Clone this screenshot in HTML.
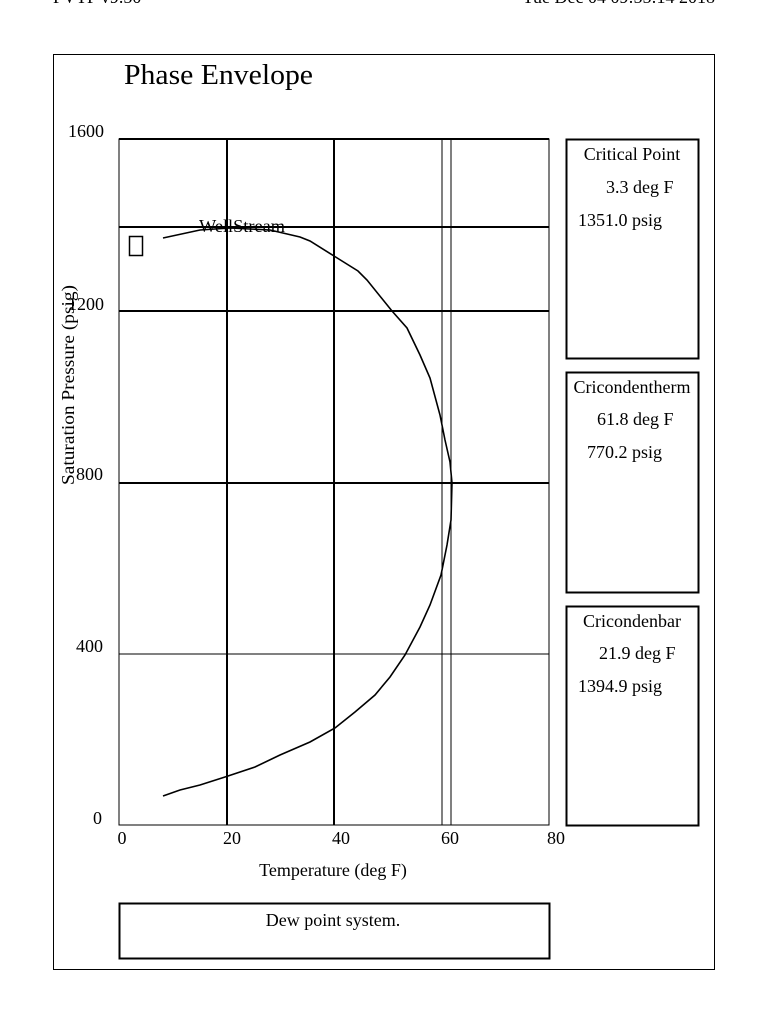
<!DOCTYPE html>
<html><head><style>
body{margin:0;background:#fff;}
svg{display:block;font-family:"Liberation Serif",serif;}
</style></head><body>
<svg width="768" height="1024" viewBox="0 0 768 1024" xmlns="http://www.w3.org/2000/svg">
<text x="53" y="3" font-size="18">PVTP v9.50</text>
<text x="715" y="3" font-size="18" text-anchor="end">Tue Dec 04 09:55:14 2018</text>
<rect x="53.5" y="54.5" width="661" height="915" fill="none" stroke="#000" stroke-width="1"/>
<text x="124" y="84" font-size="28" textLength="189" lengthAdjust="spacingAndGlyphs">Phase Envelope</text>
<g stroke="#000" fill="none">
<line x1="119" y1="227" x2="549" y2="227" stroke-width="2"/>
<line x1="119" y1="311" x2="549" y2="311" stroke-width="2"/>
<line x1="119" y1="483" x2="549" y2="483" stroke-width="2"/>
<line x1="119" y1="654" x2="549" y2="654" stroke-width="1"/>
<line x1="227" y1="139" x2="227" y2="825" stroke-width="2"/>
<line x1="334" y1="139" x2="334" y2="825" stroke-width="2"/>
<line x1="442" y1="139" x2="442" y2="825" stroke-width="1"/>
<line x1="451" y1="139" x2="451" y2="825" stroke-width="1"/>
<rect x="119" y="139" width="430" height="686" stroke-width="1"/>
<line x1="119" y1="139" x2="549" y2="139" stroke-width="2"/>
<rect x="129.5" y="236.5" width="13" height="19" stroke-width="1.5"/>
<polyline stroke-width="1.6" points="163,238 200,230 230,228 270,230 300,237 310,241 334,256 358,271 367,280 392,311 407,328 420,355 430,378 440,415 445,440 450,462 452,483 451,520 447,545 441,575 430,605 420,627 405,655 390,677 375,695 355,712 335,728 310,742 280,755 255,767 225,777 200,785 180,790 163,796"/>
<rect x="566.5" y="139.5" width="132" height="219" stroke-width="2"/>
<rect x="566.5" y="372.5" width="132" height="220" stroke-width="2"/>
<rect x="566.5" y="606.5" width="132" height="219" stroke-width="2"/>
<rect x="119.5" y="903.5" width="430" height="55" stroke-width="2"/>
</g>
<text x="199" y="232" font-size="18" textLength="86" lengthAdjust="spacingAndGlyphs">WellStream</text>
<g font-size="18">
<text x="68" y="137">1600</text>
<text x="68" y="310">1200</text>
<text x="76" y="480">800</text>
<text x="76" y="652">400</text>
<text x="93" y="824">0</text>
<text x="122" y="844" text-anchor="middle">0</text>
<text x="232" y="844" text-anchor="middle">20</text>
<text x="341" y="844" text-anchor="middle">40</text>
<text x="450" y="844" text-anchor="middle">60</text>
<text x="556" y="844" text-anchor="middle">80</text>
<text x="333" y="876" text-anchor="middle">Temperature (deg F)</text>
<text x="74" y="385" text-anchor="middle" transform="rotate(-90 74 385)" textLength="200" lengthAdjust="spacingAndGlyphs">Saturation Pressure (psig)</text>
<text x="632" y="160" text-anchor="middle">Critical Point</text>
<text x="606" y="193">3.3 deg F</text>
<text x="578" y="226">1351.0 psig</text>
<text x="632" y="393" text-anchor="middle">Cricondentherm</text>
<text x="597" y="425">61.8 deg F</text>
<text x="587" y="458">770.2 psig</text>
<text x="632" y="627" text-anchor="middle">Cricondenbar</text>
<text x="599" y="659">21.9 deg F</text>
<text x="578" y="692">1394.9 psig</text>
<text x="333" y="926" text-anchor="middle">Dew point system.</text>
</g>
</svg>
</body></html>
